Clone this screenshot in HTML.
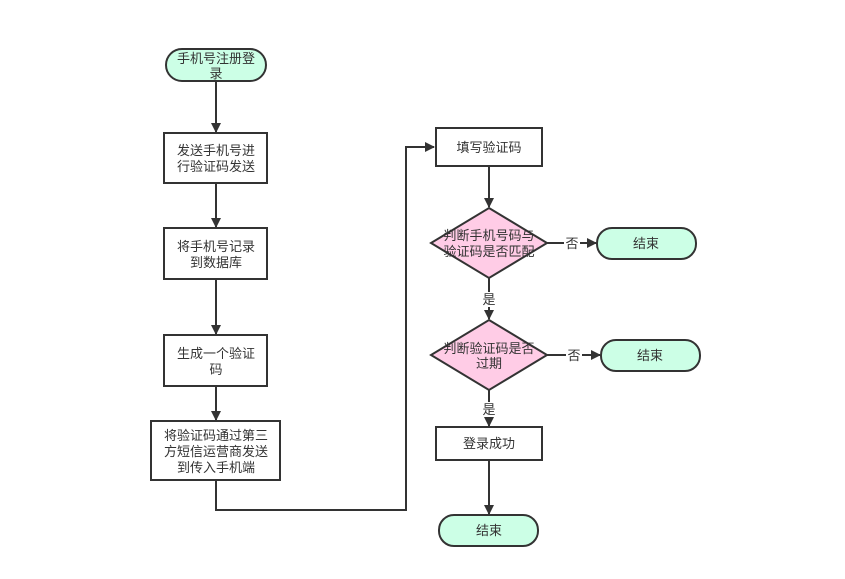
<!DOCTYPE html>
<html><head><meta charset="utf-8"><style>
html,body{margin:0;padding:0;background:#fff;}
svg text{font-family:"Liberation Sans","Noto Sans CJK SC",sans-serif;font-size:13px;fill:#333;text-anchor:middle;}
</style></head><body>
<svg width="845" height="574" viewBox="0 0 845 574" xmlns="http://www.w3.org/2000/svg">
<defs><marker id="a" markerWidth="10" markerHeight="10" refX="9" refY="5" orient="auto" markerUnits="userSpaceOnUse"><path d="M0,0 L10,5 L0,10 Z" fill="#333"/></marker></defs>
<g stroke="#333" stroke-width="2" fill="none">
<line x1="216" y1="81" x2="216" y2="132" marker-end="url(#a)"/>
<line x1="216" y1="183" x2="216" y2="227" marker-end="url(#a)"/>
<line x1="216" y1="279" x2="216" y2="334" marker-end="url(#a)"/>
<line x1="216" y1="386" x2="216" y2="420" marker-end="url(#a)"/>
<polyline points="216,480 216,510 406,510 406,147 434,147" marker-end="url(#a)"/>
<line x1="489" y1="166" x2="489" y2="207" marker-end="url(#a)"/>
<line x1="547" y1="243" x2="596" y2="243" marker-end="url(#a)"/>
<line x1="489" y1="278" x2="489" y2="319" marker-end="url(#a)"/>
<line x1="547" y1="355" x2="600" y2="355" marker-end="url(#a)"/>
<line x1="489" y1="390" x2="489" y2="426" marker-end="url(#a)"/>
<line x1="489" y1="460" x2="489" y2="514" marker-end="url(#a)"/>
</g>
<g stroke="#333" stroke-width="2">
<rect x="166" y="49" width="100" height="32" rx="16" fill="#ccffe6"/>
<rect x="164" y="133" width="103" height="50" fill="#fff"/>
<rect x="164" y="228" width="103" height="51" fill="#fff"/>
<rect x="164" y="335" width="103" height="51" fill="#fff"/>
<rect x="151" y="421" width="129" height="59" fill="#fff"/>
<rect x="436" y="128" width="106" height="38" fill="#fff"/>
<polygon points="489,208 547,243 489,278 431,243" fill="#ffcce6"/>
<rect x="597" y="228" width="99" height="31" rx="15" fill="#ccffe6"/>
<polygon points="489,320 547,355 489,390 431,355" fill="#ffcce6"/>
<rect x="601" y="340" width="99" height="31" rx="15" fill="#ccffe6"/>
<rect x="436" y="427" width="106" height="33" fill="#fff"/>
<rect x="439" y="515" width="99" height="31" rx="15" fill="#ccffe6"/>
</g>
<rect x="564" y="236" width="16" height="15" fill="#fff"/>
<rect x="566" y="348" width="16" height="15" fill="#fff"/>
<rect x="481" y="292" width="16" height="15" fill="#fff"/>
<rect x="481" y="402" width="16" height="15" fill="#fff"/>
<text x="216" y="63">手机号注册登</text><text x="216" y="78">录</text>
<text x="216" y="155">发送手机号进</text><text x="216" y="171">行验证码发送</text>
<text x="216" y="251">将手机号记录</text><text x="216" y="267">到数据库</text>
<text x="216" y="358">生成一个验证</text><text x="216" y="374">码</text>
<text x="216" y="440">将验证码通过第三</text><text x="216" y="456">方短信运营商发送</text><text x="216" y="472">到传入手机端</text>
<text x="489" y="152">填写验证码</text>
<text x="489" y="240">判断手机号码与</text><text x="489" y="256">验证码是否匹配</text>
<text x="572" y="248">否</text>
<text x="646" y="248">结束</text>
<text x="489" y="304">是</text>
<text x="489" y="353">判断验证码是否</text><text x="489" y="368">过期</text>
<text x="574" y="360">否</text>
<text x="650" y="360">结束</text>
<text x="489" y="414">是</text>
<text x="489" y="448">登录成功</text>
<text x="489" y="535">结束</text>
</svg>
</body></html>
